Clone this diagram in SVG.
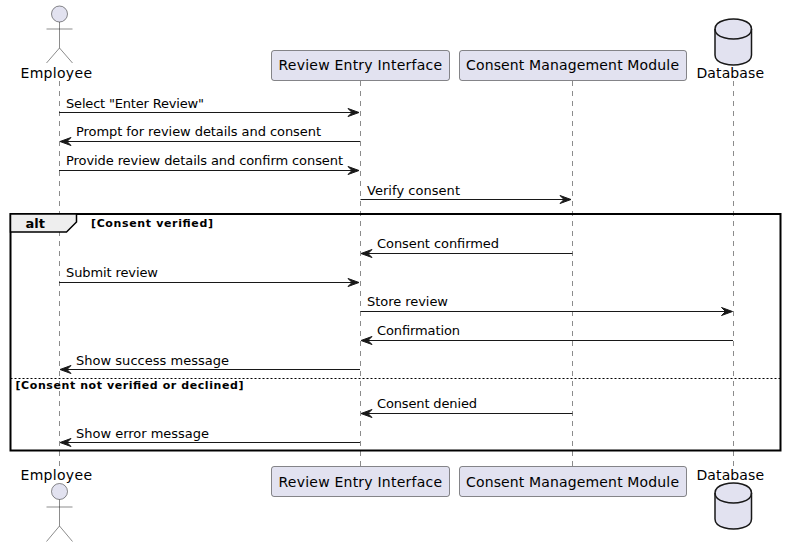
<svg xmlns="http://www.w3.org/2000/svg" width="786" height="547" viewBox="0 0 786 547">
<defs>
<polygon id="ah" points="-11,-4 0,0 -11,4 -7,0" fill="#181818" stroke="#181818" stroke-width="1"/>
<polygon id="ahl" points="11,-4 0,0 11,4 7,0" fill="#181818" stroke="#181818" stroke-width="1"/>
</defs>
<style>
text{font-family:"DejaVu Sans",sans-serif;fill:#000}
.m{font-size:13px}
.p{font-size:14px}
.g{font-size:11px;font-weight:bold}
.box{fill:#E2E2F0;stroke:#181818;stroke-width:.5}
.ll{stroke:#181818;stroke-width:.5;stroke-dasharray:5,5;fill:none}
.msg{stroke:#181818;stroke-width:1;fill:none}
.act{fill:none;stroke:#181818;stroke-width:.5}
.db{fill:#E2E2F0;stroke:#181818;stroke-width:1.5}
</style>
<rect width="786" height="547" fill="#fff"/>
<g id="lifelines">
<line class="ll" x1="59.500" y1="81" x2="59.500" y2="466"/>
<line class="ll" x1="360.500" y1="81" x2="360.500" y2="466"/>
<line class="ll" x1="572.500" y1="81" x2="572.500" y2="466"/>
<line class="ll" x1="733.500" y1="81" x2="733.500" y2="466"/>
</g>
<g id="alt-frame">
<rect x="10.500" y="214" width="770" height="236.500" fill="none" stroke="#000" stroke-width="2"/>
<path d="M10.500,214 L76.500,214 L76.500,222 L66.500,232 L10.500,232 Z" fill="#EEEEEE" stroke="#000" stroke-width="1.500"/>
<text x="25.500" y="228" font-size="13" font-weight="bold">alt</text>
<text class="g" x="91" y="226.500" textLength="122">[Consent verified]</text>
<line x1="10.500" y1="378.500" x2="780.500" y2="378.500" stroke="#000" stroke-width="1" stroke-dasharray="2,2"/>
<text class="g" x="15.500" y="389" textLength="228">[Consent not verified or declined]</text>
</g>
<g id="connectors">
<line class="msg" x1="59" y1="112.500" x2="355" y2="112.500"/><use href="#ah" x="359" y="112.500"/>
<text class="m" x="66" y="107.500" textLength="138">Select "Enter Review"</text>
<line class="msg" x1="64" y1="141.500" x2="360" y2="141.500"/><use href="#ahl" x="60" y="141.500"/>
<text class="m" x="76" y="136" textLength="245">Prompt for review details and consent</text>
<line class="msg" x1="59" y1="170.500" x2="355" y2="170.500"/><use href="#ah" x="359" y="170.500"/>
<text class="m" x="66" y="165" textLength="277">Provide review details and confirm consent</text>
<line class="msg" x1="360.500" y1="199.500" x2="567" y2="199.500"/><use href="#ah" x="571" y="199.500"/>
<text class="m" x="367" y="195" textLength="93">Verify consent</text>
<line class="msg" x1="366" y1="253.500" x2="572.500" y2="253.500"/><use href="#ahl" x="361" y="253.500"/>
<text class="m" x="377" y="248" textLength="122">Consent confirmed</text>
<line class="msg" x1="59" y1="282.500" x2="355" y2="282.500"/><use href="#ah" x="359" y="282.500"/>
<text class="m" x="66" y="277" textLength="92">Submit review</text>
<line class="msg" x1="360.500" y1="311.500" x2="728" y2="311.500"/><use href="#ah" x="732.500" y="311.500"/>
<text class="m" x="367" y="306" textLength="81">Store review</text>
<line class="msg" x1="366" y1="340.500" x2="733" y2="340.500"/><use href="#ahl" x="361" y="340.500"/>
<text class="m" x="377" y="335" textLength="83">Confirmation</text>
<line class="msg" x1="64" y1="369.500" x2="360" y2="369.500"/><use href="#ahl" x="60" y="369.500"/>
<text class="m" x="76" y="365" textLength="153">Show success message</text>
<line class="msg" x1="366" y1="413.500" x2="572.500" y2="413.500"/><use href="#ahl" x="361" y="413.500"/>
<text class="m" x="377" y="408" textLength="100">Consent denied</text>
<line class="msg" x1="64" y1="442.500" x2="360" y2="442.500"/><use href="#ahl" x="60" y="442.500"/>
<text class="m" x="76" y="438" textLength="133">Show error message</text>
</g>
<g id="employee-top">
<circle cx="59.500" cy="14" r="8" fill="#E2E2F0" stroke="#181818" stroke-width=".5"/>
<path class="act" d="M59.500,22V48M46.500,29H72.500M59.500,48L46.500,63M59.500,48L72.500,63"/>
<text class="p" x="20.500" y="78" textLength="71.500">Employee</text>
</g>
<g id="employee-bottom">
<text class="p" x="20.500" y="480" textLength="71.500">Employee</text>
<circle cx="59.500" cy="491.500" r="8" fill="#E2E2F0" stroke="#181818" stroke-width=".5"/>
<path class="act" d="M59.500,499.500V526M46.500,507H72.500M59.500,526L46.500,541.500M59.500,526L72.500,541.500"/>
</g>
<g id="review-top">
<rect class="box" x="271.500" y="50.500" width="178" height="30" rx="2.500"/>
<text class="p" x="278.500" y="70" textLength="163.500">Review Entry Interface</text>
</g>
<g id="review-bottom">
<rect class="box" x="271.500" y="466.500" width="178" height="30" rx="2.500"/>
<text class="p" x="278.500" y="487" textLength="163.500">Review Entry Interface</text>
</g>
<g id="consent-top">
<rect class="box" x="459.500" y="50.500" width="227" height="30" rx="2.500"/>
<text class="p" x="466" y="70" textLength="213">Consent Management Module</text>
</g>
<g id="consent-bottom">
<rect class="box" x="459.500" y="466.500" width="227" height="30" rx="2.500"/>
<text class="p" x="466" y="487" textLength="213">Consent Management Module</text>
</g>
<g id="database-top">
<path class="db" d="M715,29C715,19 733.500,19 733.500,19C733.500,19 751.500,19 751.500,29V55C751.500,65 733.500,65 733.500,65C733.500,65 715,65 715,55Z"/>
<path d="M715,29C715,39 733.500,39 733.500,39C733.500,39 751.500,39 751.500,29" fill="none" stroke="#181818" stroke-width="1.500"/>
<text class="p" x="696.500" y="78" textLength="67.500">Database</text>
</g>
<g id="database-bottom">
<text class="p" x="696.500" y="480" textLength="67.500">Database</text>
<path class="db" d="M715,493C715,483 733.500,483 733.500,483C733.500,483 751.500,483 751.500,493V519C751.500,529 733.500,529 733.500,529C733.500,529 715,529 715,519Z"/>
<path d="M715,493C715,503 733.500,503 733.500,503C733.500,503 751.500,503 751.500,493" fill="none" stroke="#181818" stroke-width="1.500"/>
</g>
</svg>
